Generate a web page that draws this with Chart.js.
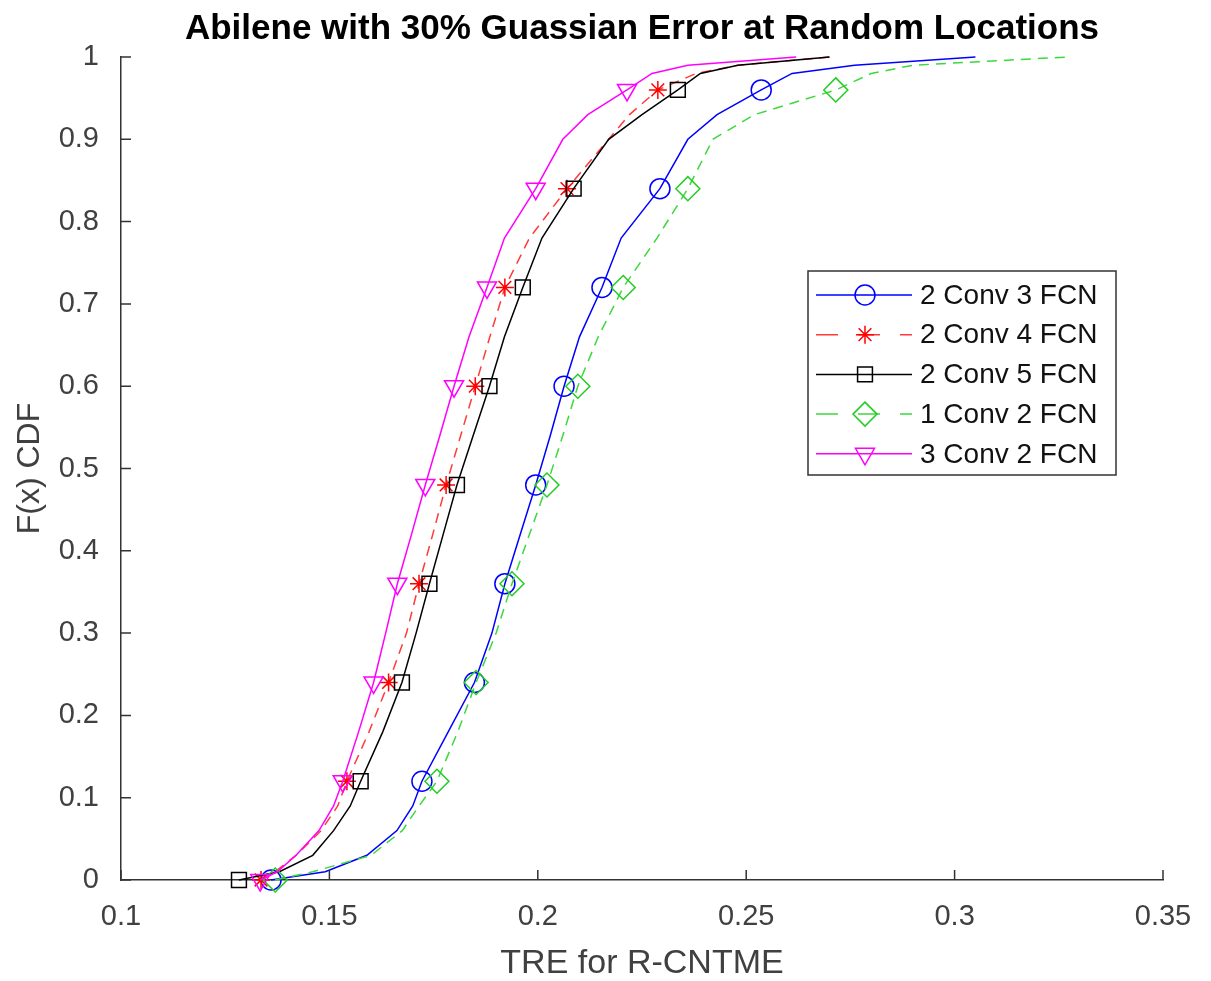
<!DOCTYPE html>
<html>
<head>
<meta charset="utf-8">
<script src="https://cdn.jsdelivr.net/npm/chart.js@4.4.1/dist/chart.umd.min.js"></script>
<style>
html, body { margin: 0; padding: 0; background: #fff; }
#wrap { width: 1211px; height: 981px; }
</style>
</head>
<body>
<div id="wrap"><canvas id="myChart" width="1211" height="981"></canvas></div>
<script>
const cdfLevels = [0, 0.01, 0.03, 0.06, 0.09, 0.12, 0.18, 0.24, 0.30, 0.36, 0.42, 0.48, 0.54,
	0.60, 0.66, 0.72, 0.78, 0.84, 0.90, 0.93, 0.96, 0.98, 0.99, 1.0];
// levels that carry a marker
const markerLevels = [0, 0.12, 0.24, 0.36, 0.48, 0.60, 0.72, 0.84, 0.96];

// TRE values per model, one per level above
const conv2fcn3 = [0.136, 0.149, 0.159, 0.1662, 0.170, 0.1722, 0.1785, 0.1848, 0.189, 0.1921, 0.1958, 0.1995, 0.203,
	0.2063, 0.210, 0.2154, 0.220, 0.2293, 0.236, 0.243, 0.2536, 0.261, 0.276, 0.305];
const conv2fcn4 = [0.1336, 0.137, 0.142, 0.148, 0.152, 0.1542, 0.1595, 0.1642, 0.1685, 0.1715, 0.1748, 0.178, 0.1815,
	0.185, 0.1885, 0.1921, 0.198, 0.207, 0.217, 0.222, 0.2288, 0.238, 0.248, 0.270];
const conv2fcn5 = [0.1283, 0.138, 0.146, 0.151, 0.155, 0.1575, 0.1628, 0.1674, 0.1708, 0.174, 0.1773, 0.1806, 0.1845,
	0.1884, 0.192, 0.1964, 0.201, 0.2086, 0.217, 0.225, 0.2336, 0.239, 0.248, 0.270];
const conv1fcn2 = [0.137, 0.146, 0.160, 0.1675, 0.1715, 0.1758, 0.1808, 0.1852, 0.190, 0.1938, 0.198, 0.2022, 0.206,
	0.2096, 0.2145, 0.2205, 0.2286, 0.236, 0.242, 0.252, 0.2715, 0.280, 0.290, 0.327];
const conv3fcn2 = [0.1334, 0.1375, 0.142, 0.1475, 0.151, 0.1532, 0.157, 0.1606, 0.1635, 0.1663, 0.1697, 0.173, 0.1765,
	0.1799, 0.1835, 0.1878, 0.192, 0.1995, 0.206, 0.212, 0.2214, 0.2274, 0.236, 0.262];

const seriesNames = ['2 Conv 3 FCN', '2 Conv 4 FCN', '2 Conv 5 FCN', '1 Conv 2 FCN', '3 Conv 2 FCN'];

const xTicks = [0.1, 0.15, 0.2, 0.25, 0.3, 0.35];
const xTickLabels = ['0.1', '0.15', '0.2', '0.25', '0.3', '0.35'];
const yTicks = [0, 0.1, 0.2, 0.3, 0.4, 0.5, 0.6, 0.7, 0.8, 0.9, 1];
const yTickLabels = ['0', '0.1', '0.2', '0.3', '0.4', '0.5', '0.6', '0.7', '0.8', '0.9', '1'];

const chartTitle = 'Abilene with 30% Guassian Error at Random Locations';
const FONT = "'Liberation Sans', Arial, sans-serif";

const styles = [
	{ line: '#0000ff', mark: '#0000ff', dash: [], pointStyle: 'circle', radius: 10, rotation: 0 },
	{ line: '#ff3b3b', mark: '#ff0000', dash: [10, 7], pointStyle: 'star', radius: 9, rotation: 0 },
	{ line: '#000000', mark: '#000000', dash: [], pointStyle: 'rect', radius: 10.5, rotation: 0 },
	{ line: '#3cd83c', mark: '#22cc22', dash: [10, 7], pointStyle: 'rectRot', radius: 12, rotation: 0 },
	{ line: '#ff00ff', mark: '#ff00ff', dash: [], pointStyle: 'triangle', radius: 11, rotation: 180 }
];
const seriesData = [conv2fcn3, conv2fcn4, conv2fcn5, conv1fcn2, conv3fcn2];

const datasets = seriesData.map((vals, k) => ({
	label: seriesNames[k],
	data: cdfLevels.map((p, i) => ({ x: vals[i], y: p })),
	borderColor: styles[k].line,
	borderWidth: 1.5,
	borderDash: styles[k].dash,
	pointStyle: styles[k].pointStyle,
	pointRotation: styles[k].rotation,
	pointBorderColor: styles[k].mark,
	pointBackgroundColor: 'rgba(0,0,0,0)',
	pointBorderWidth: 1.5,
	pointRadius: cdfLevels.map(p => markerLevels.includes(p) ? styles[k].radius : 0),
	pointHoverRadius: 0,
	tension: 0,
	clip: false,
	order: seriesData.length - k
}));

// MATLAB style ticks pointing into the plot, plus title centred over the axes
const inwardTicks = {
	id: 'inwardTicks',
	afterDatasetsDraw(chart) {
		const { ctx, chartArea: a, scales: { x, y } } = chart;
		ctx.save();
		ctx.strokeStyle = '#333';
		ctx.lineWidth = 1.5;
		ctx.beginPath();
		x.ticks.forEach(t => {
			const px = x.getPixelForValue(t.value);
			ctx.moveTo(px, a.bottom);
			ctx.lineTo(px, a.bottom - 10);
		});
		y.ticks.forEach(t => {
			const py = y.getPixelForValue(t.value);
			ctx.moveTo(a.left, py);
			ctx.lineTo(a.left + 10, py);
		});
		ctx.stroke();
		ctx.fillStyle = '#000';
		ctx.font = 'bold 35px ' + FONT;
		ctx.textAlign = 'center';
		ctx.textBaseline = 'middle';
		ctx.fillText(chartTitle, (a.left + a.right) / 2, 29);
		ctx.restore();
	}
};

// legend box with line + marker samples
const lineLegend = {
	id: 'lineLegend',
	afterDraw(chart) {
		const ctx = chart.ctx;
		const bx = 808, by = 271, bw = 308, bh = 204;
		ctx.save();
		ctx.fillStyle = '#fff';
		ctx.fillRect(bx, by, bw, bh);
		ctx.strokeStyle = '#333';
		ctx.lineWidth = 1.5;
		ctx.strokeRect(bx, by, bw, bh);
		seriesNames.forEach((name, k) => {
			const ry = by + 24 + k * 39.7;
			const s = styles[k];
			ctx.strokeStyle = s.line;
			ctx.lineWidth = 1.5;
			ctx.setLineDash(s.dash.length ? [22, 20] : []);
			ctx.beginPath();
			ctx.moveTo(816, ry);
			ctx.lineTo(912, ry);
			ctx.stroke();
			ctx.setLineDash([]);
			ctx.strokeStyle = s.mark;
			ctx.fillStyle = 'rgba(0,0,0,0)';
			Chart.helpers.drawPoint(ctx, {
				pointStyle: s.pointStyle, radius: s.radius, rotation: s.rotation, borderWidth: 1.5
			}, 865, ry);
			ctx.fillStyle = '#111';
			ctx.font = '28px ' + FONT;
			ctx.textBaseline = 'middle';
			ctx.textAlign = 'left';
			ctx.fillText(name, 920, ry + 1);
		});
		ctx.restore();
	}
};

const ctx = document.getElementById('myChart').getContext('2d');
const myChart = new Chart(ctx, {
	type: 'line',
	data: { datasets: datasets },
	options: {
		responsive: false,
		animation: false,
		devicePixelRatio: 1,
		layout: { padding: { left: 0, right: 48, top: 57, bottom: 0 } },
		plugins: {
			legend: { display: false },
			tooltip: { enabled: false },
			title: { display: false }
		},
		scales: {
			x: {
				type: 'linear',
				min: 0.1,
				max: 0.35,
				afterBuildTicks: s => { s.ticks = xTicks.map(v => ({ value: v })); },
				afterFit: s => { s.height = 101; },
				grid: { display: false },
				border: { display: true, color: '#333', width: 1.5 },
				ticks: {
					color: '#404040',
					font: { family: FONT, size: 29 },
					padding: 12,
					maxRotation: 0,
					callback: (v, i) => xTickLabels[i]
				},
				title: {
					display: true,
					text: 'TRE for R-CNTME',
					color: '#404040',
					font: { family: FONT, size: 34, lineHeight: 1.0 },
					padding: { top: 0, bottom: 0 }
				}
			},
			y: {
				type: 'linear',
				min: 0,
				max: 1,
				afterBuildTicks: s => { s.ticks = yTicks.map(v => ({ value: v })); },
				afterFit: s => { s.width = 121; },
				grid: { display: false },
				border: { display: true, color: '#333', width: 1.5 },
				ticks: {
					color: '#404040',
					font: { family: FONT, size: 29 },
					padding: 14,
					callback: (v, i) => yTickLabels[i]
				},
				title: {
					display: true,
					text: 'F(x) CDF',
					color: '#404040',
					font: { family: FONT, size: 32 },
					padding: { top: 11, bottom: 0 }
				}
			}
		}
	},
	plugins: [inwardTicks, lineLegend]
});
</script>
</body>
</html>
